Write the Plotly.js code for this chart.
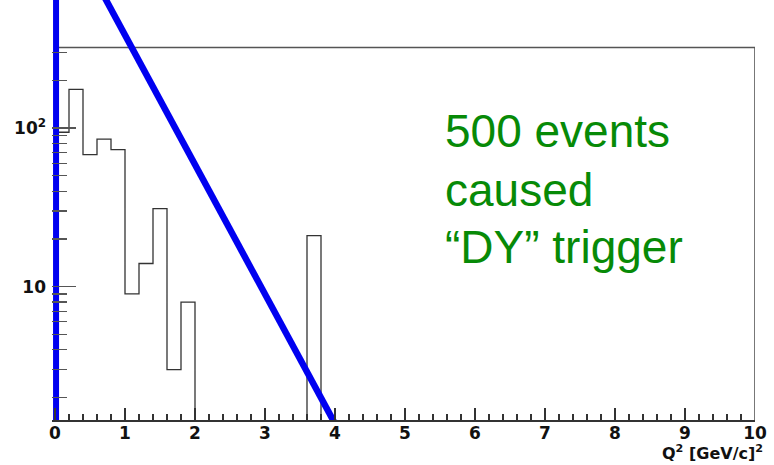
<!DOCTYPE html>
<html>
<head>
<meta charset="utf-8">
<script src="https://cdn.plot.ly/plotly-3.0.1.min.js"></script>
<style>html,body{margin:0;padding:0;background:#fff;}#chart{width:774px;height:465px;}</style>
</head>
<body>
<div id="chart"></div>
<script>
// ---- data ----
const binStart = 0;
const binWidth = 0.2;
const binCounts = [94, 175, 68, 85, 73, 9, 14, 31, 3, 8,
                   0, 0, 0, 0, 0, 0, 0, 0, 21, 0,
                   0, 0, 0, 0, 0, 0, 0, 0, 0, 0,
                   0, 0, 0, 0, 0, 0, 0, 0, 0, 0,
                   0, 0, 0, 0, 0, 0, 0, 0, 0, 0];
const cutVerticalX = [0.015, 0.015];
const cutVerticalY = [1, 1000];
const cutDiagX = [0.7, 4.0];
const cutDiagY = [677, 1.37];
const yTickVals = [10, 100];
const yTickText = ['10', '10<sup>2</sup>'];
const yMinorVals = [2, 3, 4, 5, 6, 7, 8, 9, 20, 30, 40, 50, 60, 70, 80, 90, 200, 300];
const xTickVals = [0, 1, 2, 3, 4, 5, 6, 7, 8, 9, 10];
const noteLines = ['500 events', 'caused', '\u201CDY\u201D trigger'];

// build histogram step outline (zero bins sit far below the visible range)
const offScale = 1e-3;
const hx = [], hy = [];
binCounts.forEach((c, i) => {
  const v = c > 0 ? c : offScale;
  const x0 = binStart + i * binWidth;
  hx.push(x0, x0 + binWidth);
  hy.push(v, v);
});
hx.unshift(binStart); hy.unshift(offScale);
hx.push(binStart + binCounts.length * binWidth); hy.push(offScale);

const font = 'Liberation Sans, Arial, Helvetica, sans-serif';
const boldFont = 'DejaVu Sans, Liberation Sans, Arial, sans-serif';
const traces = [
  {x: hx, y: hy, type: 'scatter', mode: 'lines',
   line: {color: '#333', width: 1.3}, hoverinfo: 'skip'},
  {x: cutVerticalX, y: cutVerticalY, type: 'scatter', mode: 'lines',
   line: {color: '#0000f0', width: 6}, hoverinfo: 'skip'},
  {x: cutDiagX, y: cutDiagY, type: 'scatter', mode: 'lines',
   line: {color: '#0000f0', width: 6.5}, hoverinfo: 'skip'}
];

const frameTop = 0.8869; // paper fraction of frame top
const noteY = [131, 190, 247]; // pixel centres of lines
const plotH = 420;
const annotations = noteLines.map((t, i) => ({
  text: t, xref: 'paper', yref: 'paper', x: 0.5562, xanchor: 'left',
  y: (plotH - noteY[i]) / plotH, yanchor: 'middle', showarrow: false,
  font: {family: font, size: 46, color: '#078a07'}
}));
annotations.push({
  text: 'Q<sup>2</sup> [GeV/c]<sup>2</sup>', xref: 'paper', yref: 'paper',
  x: (765 - 52) / 703, xanchor: 'right', y: (plotH - 465) / plotH, yanchor: 'bottom',
  showarrow: false, font: {family: boldFont, size: 16, weight: 'bold', color: '#111'}
});

const layout = {
  width: 774, height: 465,
  margin: {l: 52, r: 19, t: 0, b: 45},
  paper_bgcolor: '#fff', plot_bgcolor: '#fff',
  showlegend: false,
  xaxis: {
    range: [-3 / 70, 10], showgrid: false, zeroline: false,
    showline: true, linecolor: '#333', linewidth: 1.5,
    tickmode: 'array', tickvals: xTickVals,
    ticks: 'inside', ticklen: 12, tickwidth: 1.3, tickcolor: '#333',
    ticklabelstandoff: -3,
    minor: {tick0: 0, dtick: 0.2, ticks: 'inside', ticklen: 6, tickwidth: 1.2, tickcolor: '#333'},
    tickfont: {family: boldFont, size: 17, weight: 'bold', color: '#111'}
  },
  yaxis: {
    type: 'log', range: [0.160, 2.8066], showgrid: false, zeroline: false,
    showline: false,
    tickmode: 'array', tickvals: yTickVals, ticktext: yTickText,
    ticks: 'inside', ticklen: 24, tickwidth: 1.3, tickcolor: '#555',
    ticklabelstandoff: 5,
    minor: {tickmode: 'array', tickvals: yMinorVals, ticks: 'inside', ticklen: 15, tickwidth: 1.2, tickcolor: '#555'},
    tickfont: {family: boldFont, size: 17, weight: 'bold', color: '#111'}
  },
  shapes: [
    {type: 'line', xref: 'x', yref: 'paper', x0: 0, x1: 10, y0: frameTop, y1: frameTop,
     line: {color: '#555', width: 1.6}, layer: 'below'},
    {type: 'line', xref: 'x', yref: 'paper', x0: 10, x1: 10, y0: 0, y1: frameTop,
     line: {color: '#555', width: 1.6}, layer: 'below'}
  ],
  annotations: annotations
};

Plotly.newPlot('chart', traces, layout, {displayModeBar: false, staticPlot: true});
</script>
</body>
</html>
